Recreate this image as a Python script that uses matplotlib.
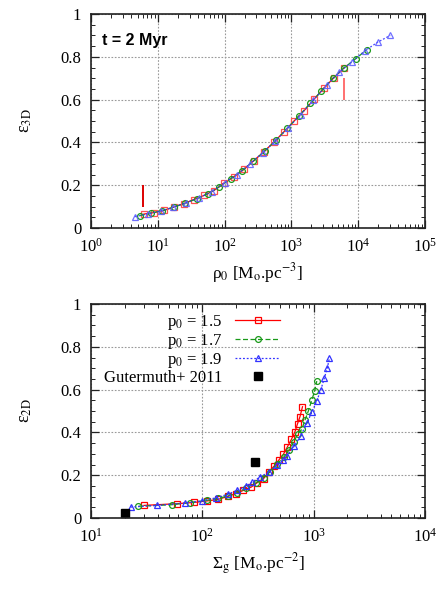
import matplotlib
matplotlib.use("Agg")
import matplotlib.pyplot as plt
from matplotlib.ticker import LogLocator, MultipleLocator, LogFormatterMathtext, NullFormatter, FuncFormatter

plt.rcParams['font.family'] = ['Liberation Serif', 'DejaVu Serif']
plt.rcParams['mathtext.fontset'] = 'stix'

# ---- Top panel data: eps_3D vs rho_0 ----
rho_p15 = [6.17, 8.71, 12.3, 17.4, 24.5, 34.7, 49.0, 69.2, 97.7, 138, 195, 275, 389,
           550, 776, 1096, 1549, 2188, 3090, 4365, 6166]
eps3d_p15 = [0.065, 0.072, 0.082, 0.098, 0.114, 0.133, 0.152, 0.175, 0.210, 0.240, 0.274,
             0.315, 0.357, 0.402, 0.450, 0.500, 0.548, 0.602, 0.655, 0.703, 0.749]
rho_p17 = [5.37, 7.94, 11.7, 17.4, 25.7, 38.0, 56.2, 83.2, 123, 182, 269, 398, 589,
           871, 1288, 1905, 2818, 4169, 6166, 9120, 13490]
eps3d_p17 = [0.058, 0.070, 0.081, 0.098, 0.116, 0.136, 0.160, 0.192, 0.230, 0.268, 0.312,
             0.359, 0.410, 0.466, 0.523, 0.582, 0.640, 0.700, 0.749, 0.790, 0.834]
rho_p19 = [4.57, 7.08, 11.0, 17.0, 26.3, 40.7, 64.6, 100, 155, 240, 372, 575, 891,
           1380, 2138, 3388, 5248, 8128, 12590, 19500, 30200]
eps3d_p19 = [0.053, 0.066, 0.079, 0.097, 0.117, 0.140, 0.170, 0.212, 0.250, 0.300, 0.352,
             0.406, 0.468, 0.530, 0.598, 0.668, 0.728, 0.778, 0.828, 0.868, 0.900]
mark_x = [6.07, 6100]
mark_y0 = [0.10, 0.60]
mark_y1 = [0.20, 0.70]

# ---- Bottom panel data: eps_2D vs Sigma_g ----
sig_p15 = [29.9, 59, 85, 111, 138, 170, 199, 234, 276, 309, 355, 394, 440, 485, 535,
           580, 632, 678, 717, 753, 794]
eps2d_p15 = [0.059, 0.067, 0.073, 0.080, 0.087, 0.101, 0.114, 0.129, 0.145, 0.164, 0.184,
             0.214, 0.242, 0.270, 0.298, 0.332, 0.368, 0.402, 0.441, 0.473, 0.520]
sig_p17 = [26.6, 53, 78, 110, 138, 170, 204, 246, 302, 355, 406, 466, 540, 604, 664,
           717, 782, 837, 896, 962, 1023, 1067]
eps2d_p17 = [0.055, 0.062, 0.072, 0.083, 0.092, 0.103, 0.118, 0.139, 0.164, 0.189, 0.215,
             0.251, 0.285, 0.320, 0.356, 0.392, 0.414, 0.458, 0.500, 0.551, 0.595, 0.640]
sig_p19 = [22.7, 39, 70, 98.6, 134, 169, 204, 246, 282, 330, 398, 466, 535, 573, 671,
           766, 867, 968, 1067, 1158, 1248, 1327, 1384]
eps2d_p19 = [0.051, 0.059, 0.070, 0.080, 0.095, 0.111, 0.129, 0.148, 0.168, 0.192, 0.215,
             0.246, 0.270, 0.290, 0.336, 0.385, 0.442, 0.497, 0.547, 0.598, 0.654, 0.702, 0.746]
sig_gut = [20, 299]
eps_gut = [0.023, 0.262]

labels = ['p$_0$ = 1.5', 'p$_0$ = 1.7', 'p$_0$ = 1.9', 'Gutermuth+ 2011']

RED = '#ff0000'
GREEN = '#1a9a1a'
BLUE = '#3333ff'

fig = plt.figure(figsize=(4.36, 5.89), dpi=100)
ax1 = fig.add_axes([0.2087, 0.6129, 0.766, 0.3633])
ax2 = fig.add_axes([0.2087, 0.1205, 0.766, 0.3633])

tick_fs = 12


def style_axes(ax, xmin, xmax):
    ax.set_xscale('log')
    ax.set_xlim(xmin, xmax)
    ax.set_ylim(0, 1)
    ax.xaxis.set_major_locator(LogLocator(base=10, numticks=10))
    ax.xaxis.set_minor_locator(LogLocator(base=10, subs=range(2, 10), numticks=20))
    ax.xaxis.set_major_formatter(LogFormatterMathtext())
    ax.xaxis.set_minor_formatter(NullFormatter())
    ax.yaxis.set_major_locator(MultipleLocator(0.2))
    ax.yaxis.set_minor_locator(MultipleLocator(0.05))
    ax.yaxis.set_major_formatter(FuncFormatter(
        lambda v, p: '0' if abs(v) < 1e-9 else ('1' if abs(v - 1) < 1e-9 else '%g' % v)))
    ax.tick_params(which='both', direction='in', top=True, right=True,
                   labelsize=tick_fs, color='#222222')
    ax.tick_params(which='major', length=6, width=0.9, pad=7)
    ax.tick_params(which='minor', length=3, width=0.7)
    ax.grid(True, which='major', linestyle=(0, (1.5, 1.5)), color='#999999', linewidth=0.8)
    for s in ax.spines.values():
        s.set_linewidth(1.2)
        s.set_color('#222222')


style_axes(ax1, 1, 1e5)
style_axes(ax2, 10, 1e4)

ms = 4.2
ax1.plot(rho_p15, eps3d_p15, color=RED, lw=0.9, ls='-', marker='s', ms=ms,
         mfc='none', mec='#ff5050', mew=0.9)
ax1.plot(rho_p17, eps3d_p17, color=GREEN, lw=0.9, ls=(0, (4, 2)), marker='o', ms=ms,
         mfc='none', mec=GREEN, mew=0.9)
ax1.plot(rho_p19, eps3d_p19, color=BLUE, lw=0.9, ls=(0, (1.5, 1.5)), marker='^', ms=ms,
         mfc='none', mec='#6060ff', mew=0.9, alpha=0.9)
ax1.vlines(mark_x, mark_y0, mark_y1, colors=['#dd0000', '#ff7070'], linewidth=1.4)
ax1.text(0.033, 0.874, 't = 2 Myr', transform=ax1.transAxes, fontsize=11.5,
         fontweight='bold', family=['Liberation Sans', 'DejaVu Sans'], va='center', ha='left')
ax1.set_xlabel('ρ$_0$ [M$_\\mathrm{o}$.pc$^{-3}$]', fontsize=12.5, labelpad=4)
ax1.set_ylabel('ε$_\\mathrm{3D}$', fontsize=13)
ax1.yaxis.set_label_coords(-0.172, 0.5)

l1, = ax2.plot(sig_p15, eps2d_p15, color=RED, lw=0.9, ls='-', marker='s', ms=ms,
               mfc='none', mec=RED, mew=0.9)
l2, = ax2.plot(sig_p17, eps2d_p17, color=GREEN, lw=0.9, ls=(0, (4, 2)), marker='o', ms=ms,
               mfc='none', mec=GREEN, mew=0.9)
l3, = ax2.plot(sig_p19, eps2d_p19, color=BLUE, lw=0.9, ls=(0, (1.5, 1.5)), marker='^', ms=ms,
               mfc='none', mec=BLUE, mew=0.9)
l4, = ax2.plot(sig_gut, eps_gut, ls='none', marker='s', ms=5.5, color='black')
ax2.set_xlabel('Σ$_\\mathrm{g}$ [M$_\\mathrm{o}$.pc$^{-2}$]', fontsize=12.5, labelpad=4)
ax2.set_ylabel('ε$_\\mathrm{2D}$', fontsize=13)
ax2.yaxis.set_label_coords(-0.172, 0.5)

leg = ax2.legend([l1, l2, l3, l4], labels, loc='upper left', bbox_to_anchor=(0.018, 0.988),
                 frameon=False, markerfirst=False, fontsize=12, handlelength=2.7,
                 labelspacing=0.0, handletextpad=0.8, borderaxespad=0.0)

fig.savefig('out.png', dpi=100)
